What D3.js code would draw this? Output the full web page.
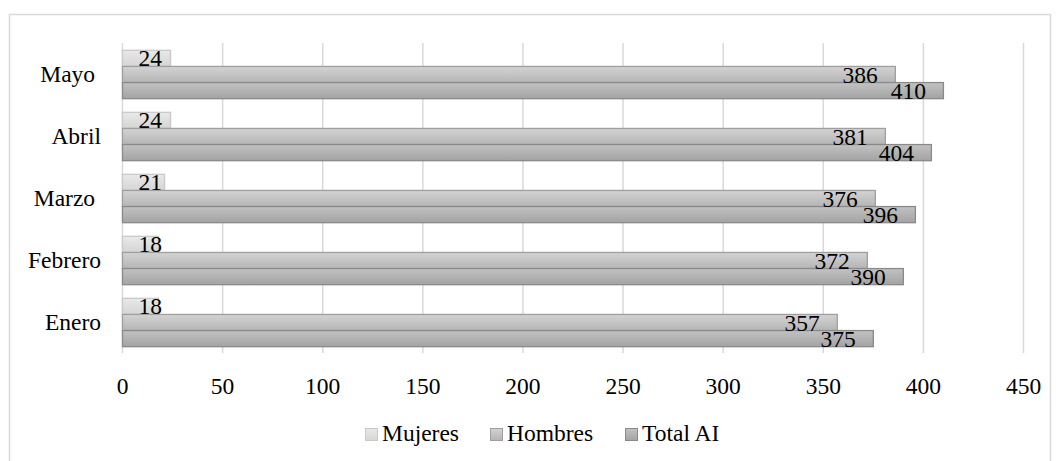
<!DOCTYPE html>
<html>
<head>
<meta charset="utf-8">
<script src="https://cdn.jsdelivr.net/npm/d3@7"></script>
<style>
  body { margin: 0; background: #fff; }
  svg text { font-family: "Liberation Serif", "Times New Roman", serif; fill: #000; }
</style>
</head>
<body>
<svg width="1059" height="461"></svg>
<script>
const meses = ["Mayo ", "Abril", "Marzo ", "Febrero", "Enero"];
const series = ["Mujeres", "Hombres", "Total AI"];
const mujeres = [24, 24, 21, 18, 18];
const hombres = [386, 381, 376, 372, 357];
const totalAI = [410, 404, 396, 390, 375];
const ticks = [0, 50, 100, 150, 200, 250, 300, 350, 400, 450];

const valores = [mujeres, hombres, totalAI];
const data = [];
meses.forEach((m, i) => {
    series.forEach((s, j) => {
        data.push({ mes: m, serie: s, valor: valores[j][i] });
    });
});

const width = 1059, height = 461;
const margin = { top: 43, right: 36, bottom: 111, left: 122 };
const fontSize = "23.5px";
const svg = d3.select("svg");

// marco del gráfico
svg.append("rect")
    .attr("x", 9.5).attr("y", 14.5)
    .attr("width", 1041).attr("height", 470)
    .attr("fill", "none")
    .attr("stroke", "#d9d9d9")
    .attr("stroke-width", 1.5);

const x = d3.scaleLinear()
    .domain([0, 450])
    .range([margin.left, width - margin.right]);

const y = d3.scaleBand()
    .domain(meses)
    .range([margin.top, height - margin.bottom + 3])
    .paddingInner(0.22)
    .paddingOuter(0.11);

const ySub = d3.scaleBand()
    .domain(series)
    .range([0, y.bandwidth()]);

const fills = { "Mujeres": ["#e9e9e9", "#d5d5d5"], "Hombres": ["#d3d3d3", "#b5b5b5"], "Total AI": ["#c2c2c2", "#a3a3a3"] };
const strokes = { "Mujeres": "#c9c9c9", "Hombres": "#9f9f9f", "Total AI": "#8a8a8a" };

const defs = svg.append("defs");
series.forEach((s, i) => {
    const g = defs.append("linearGradient")
        .attr("id", "grad" + i)
        .attr("x1", 0).attr("y1", 0).attr("x2", 0).attr("y2", 1);
    g.append("stop").attr("offset", "0%").attr("stop-color", fills[s][0]);
    g.append("stop").attr("offset", "100%").attr("stop-color", fills[s][1]);
});
const gradId = s => `url(#grad${series.indexOf(s)})`;

// rejilla
svg.append("g")
    .selectAll("line")
    .data(ticks)
    .join("line")
    .attr("x1", d => x(d) + 0.5).attr("x2", d => x(d) + 0.5)
    .attr("y1", margin.top).attr("y2", height - margin.bottom + 3)
    .attr("stroke", "#d9d9d9")
    .attr("stroke-width", 1.5);

// eje x
const xAxis = svg.append("g")
    .attr("transform", `translate(0,${height - margin.bottom})`)
    .call(d3.axisBottom(x).tickValues(ticks).tickSize(0).tickPadding(27));
xAxis.select(".domain").remove();
xAxis.selectAll("text")
    .style("font-family", '"Liberation Serif", serif')
    .style("font-size", fontSize);

// eje y
const yAxis = svg.append("g")
    .attr("transform", `translate(${margin.left - 21},0)`)
    .call(d3.axisLeft(y).tickSize(0).tickPadding(0));
yAxis.select(".domain").remove();
yAxis.selectAll("text")
    .style("font-family", '"Liberation Serif", serif')
    .style("font-size", fontSize)
    .style("white-space", "pre")
    .attr("dy", "0.34em");

// barras
svg.append("g")
    .selectAll("rect")
    .data(data)
    .join("rect")
    .attr("x", x(0) + 0.5)
    .attr("y", d => y(d.mes) + ySub(d.serie) + 0.5)
    .attr("width", d => x(d.valor) - x(0))
    .attr("height", ySub.bandwidth())
    .attr("fill", d => gradId(d.serie))
    .attr("stroke", d => strokes[d.serie])
    .attr("stroke-width", 1.3);

// etiquetas de datos
svg.append("g")
    .selectAll("text")
    .data(data)
    .join("text")
    .attr("x", d => d.serie === "Mujeres" ? x(20) : x(d.valor) - 17)
    .attr("y", d => y(d.mes) + ySub(d.serie) + ySub.bandwidth() + 0.5)
    .attr("text-anchor", "end")
    .style("font-size", fontSize)
    .text(d => d.valor);

// leyenda
const legendX = [365, 490, 625];
const legend = svg.append("g");
series.forEach((s, i) => {
    const g = legend.append("g").attr("transform", `translate(${legendX[i]},428)`);
    g.append("rect")
        .attr("x", 0.5).attr("y", 0.5)
        .attr("width", 12).attr("height", 12)
        .attr("fill", gradId(s))
        .attr("stroke", strokes[s]);
    g.append("text")
        .attr("x", 17)
        .attr("y", 13)
        .style("font-size", fontSize)
        .text(s);
});
</script>
</body>
</html>
